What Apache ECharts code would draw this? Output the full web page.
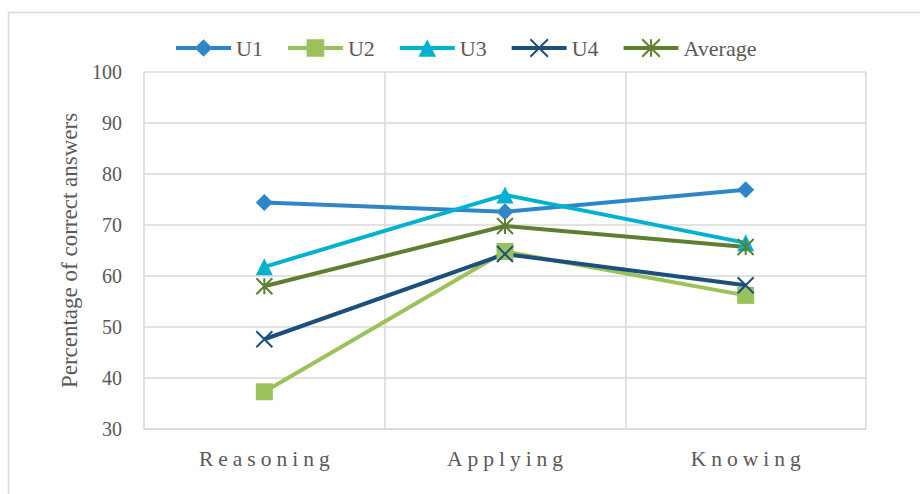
<!DOCTYPE html>
<html>
<head>
<meta charset="utf-8">
<script src="https://cdn.jsdelivr.net/npm/echarts@6/dist/echarts.min.js"></script>
<style>
  html, body { margin: 0; padding: 0; background: #ffffff; }
  #chart { width: 920px; height: 494px; }
</style>
</head>
<body>
<div id="chart"></div>
<script>
// Skill categories on the x axis
const categories = ['Reasoning', 'Applying', 'Knowing'];

// Percentage of correct answers per unit
const u1 = [74.4, 72.6, 76.9];
const u2 = [37.3, 64.8, 56.2];
const u3 = [61.8, 75.9, 66.5];
const u4 = [47.6, 64.3, 58.2];
const average = [58.0, 69.8, 65.7];

// Y axis range
const yMin = 30;
const yMax = 100;
const yStep = 10;

const FONT = 'Liberation Serif';
const TEXT = '#595959';
const GRID = '#d9d9d9';

const chart = echarts.init(document.getElementById('chart'), null, { renderer: 'svg' });

function lineSeries(name, data, color, symbol, size, stroked) {
  return {
    name: name,
    type: 'line',
    data: data,
    symbol: symbol,
    symbolSize: size,
    showAllSymbol: true,
    lineStyle: { color: color, width: 4 },
    itemStyle: stroked
      ? { color: color, borderColor: color, borderWidth: 2 }
      : { color: color, borderWidth: 0 },
    emphasis: { disabled: true },
    animation: false
  };
}

const option = {
  backgroundColor: '#ffffff',
  animation: false,
  graphic: [{
    type: 'rect',
    left: 6, top: 10,
    shape: { x: 0, y: 0, width: 1000, height: 1000 },
    style: { fill: 'none', stroke: GRID, lineWidth: 1.5 },
    silent: true,
    z: -10
  }],
  legend: {
    left: 174,
    top: 37,
    padding: 0,
    itemWidth: 55,
    itemHeight: 22,
    itemGap: 23,
    lineStyle: { width: 4 },
    textStyle: { fontFamily: FONT, fontSize: 22, color: TEXT },
    data: ['U1', 'U2', 'U3', 'U4', 'Average']
  },
  grid: { left: 144, right: 54, top: 72, bottom: 65, containLabel: false },
  xAxis: {
    type: 'category',
    data: categories,
    boundaryGap: true,
    axisLine: { show: true, lineStyle: { color: GRID, width: 1.5 } },
    axisTick: { show: false },
    splitLine: { show: true, interval: 0, lineStyle: { color: GRID, width: 1.5 } },
    axisLabel: { fontFamily: FONT, fontSize: 21.5, color: TEXT, margin: 19, interval: 0 }
  },
  yAxis: {
    type: 'value',
    min: yMin,
    max: yMax,
    interval: yStep,
    name: 'Percentage of correct answers',
    nameLocation: 'middle',
    nameGap: 63,
    nameTextStyle: { fontFamily: FONT, fontSize: 23, color: TEXT },
    axisLine: { show: false },
    axisTick: { show: false },
    splitLine: { show: true, lineStyle: { color: GRID, width: 1.5 } },
    axisLabel: { fontFamily: FONT, fontSize: 20, color: TEXT, margin: 22 }
  },
  series: [
    lineSeries('U1', u1, '#2e86c8', 'diamond', 17, false),
    lineSeries('U2', u2, '#9bc25a', 'rect', 17, false),
    lineSeries('U3', u3, '#00b2cf', 'triangle', 17, false),
    lineSeries('U4', u4, '#1b4f7c', 'path://M0,0L10,10M10,0L0,10', 16, true),
    lineSeries('Average', average, '#5e7f32', 'path://M5,0L5,10M0,0L10,10M10,0L0,10', 16, true)
  ]
};

chart.setOption(option);

// Serif face for every label; the category names get wider letter spacing
function styleText() {
  document.querySelectorAll('#chart svg text').forEach(function (n) {
    n.style.fontFamily = "'Liberation Serif', serif";
    if (categories.indexOf(n.textContent) >= 0) {
      n.setAttribute('letter-spacing', '5px');
      n.setAttribute('dx', '2.5');
    }
  });
}
styleText();
chart.on('finished', styleText);
</script>
</body>
</html>
